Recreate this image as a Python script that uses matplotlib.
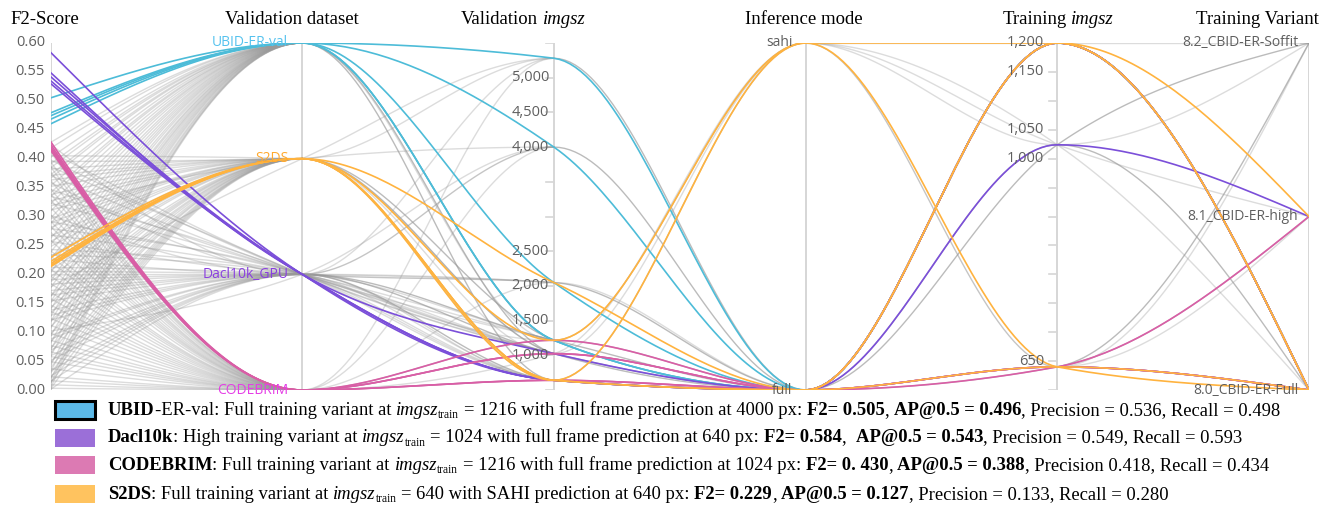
import numpy as np
import matplotlib
matplotlib.use("Agg")
import matplotlib.pyplot as plt
from matplotlib.collections import LineCollection
from matplotlib.patches import Rectangle

# ---------------------------------------------------------------- axes / scales
f2_ticks = [0.00, 0.05, 0.10, 0.15, 0.20, 0.25, 0.30, 0.35, 0.40, 0.45, 0.50, 0.55, 0.60]
f2_domain = [0.0, 0.60]
datasets = ["CODEBRIM", "Dacl10k_GPU", "S2DS", "UBID-ER-val"]          # bottom -> top
val_imgsz_ticks = [1000, 1500, 2000, 2500, 3000, 3500, 4000, 4500, 5000]
val_imgsz_labelled = [1000, 1500, 2000, 2500, 4000, 4500, 5000]
val_imgsz_domain = [500, 5500]
modes = ["full", "sahi"]
train_imgsz_ticks = [650, 700, 750, 800, 850, 900, 950, 1000, 1050, 1100, 1150, 1200]
train_imgsz_labelled = [650, 1000, 1050, 1150, 1200]
train_imgsz_domain = [600, 1200]
variants = ["8.0_CBID-ER-Full", "8.1_CBID-ER-high", "8.2_CBID-ER-Soffit"]

# ---------------------------------------------------------------- best runs per dataset
ubid_best_f2 = [0.505, 0.479, 0.474, 0.468, 0.460]
ubid_best_val_imgsz = [4000, 5280, 1216, 2048, 1216]
ubid_best_mode = ["full", "full", "full", "full", "full"]
ubid_best_train_imgsz = [1200, 1200, 1200, 1200, 1200]
ubid_best_variant = ["8.0", "8.0", "8.0", "8.0", "8.0"]

dacl_best_f2 = [0.584, 0.549, 0.542, 0.535, 0.530]
dacl_best_val_imgsz = [640, 1024, 640, 640, 640]
dacl_best_mode = ["full", "full", "full", "full", "full"]
dacl_best_train_imgsz = [1024, 1200, 640, 1200, 640]
dacl_best_variant = ["8.1", "8.0", "8.0", "8.0", "8.0"]

codebrim_best_f2 = [0.430, 0.425, 0.421, 0.418, 0.415]
codebrim_best_val_imgsz = [1024, 640, 1216, 1024, 640]
codebrim_best_mode = ["full", "full", "full", "full", "full"]
codebrim_best_train_imgsz = [1200, 640, 640, 1200, 640]
codebrim_best_variant = ["8.0", "8.1", "8.0", "8.0", "8.0"]

s2ds_best_f2 = [0.229, 0.222, 0.218, 0.215, 0.213]
s2ds_best_val_imgsz = [640, 1216, 2048, 640, 640]
s2ds_best_mode = ["sahi", "sahi", "full", "full", "full"]
s2ds_best_train_imgsz = [640, 1200, 1200, 640, 1200]
s2ds_best_variant = ["8.0", "8.1", "8.0", "8.0", "8.0"]

# ---------------------------------------------------------------- remaining sweep runs
ubid_f2 = [0.418, 0.402, 0.391, 0.372, 0.366, 0.341, 0.334, 0.309, 0.297, 0.288, 0.262, 0.251, 0.238,
           0.214, 0.203, 0.188, 0.161, 0.152, 0.127, 0.118, 0.093, 0.081, 0.058, 0.042, 0.018, 0.004,
           0.428, 0.384, 0.353, 0.322, 0.276, 0.226, 0.176, 0.139, 0.106, 0.069, 0.031, 0.011]
ubid_val_imgsz = [1216, 1024, 1216, 640, 1216, 1024, 1216, 640, 1216, 1024, 1216, 1024, 1216,
                  640, 1216, 1024, 1216, 1024, 1216, 640, 1216, 1024, 1216, 1024, 640, 1024,
                  1216, 1024, 640, 1216, 1024, 1216, 640, 1024, 1216, 640, 1216, 1024]
ubid_mode = ["full", "full", "full", "full", "full", "full", "sahi", "full", "full", "full", "full", "full", "full",
             "full", "full", "full", "full", "full", "full", "full", "full", "full", "full", "full", "full", "full",
             "full", "full", "full", "full", "full", "full", "full", "full", "full", "full", "full", "full"]
ubid_train_imgsz = [1024, 640, 1024, 1024, 640, 1024, 1200, 640, 1024, 1024, 640, 1024, 1024,
                    640, 1024, 640, 1024, 1024, 640, 1024, 1024, 640, 1024, 1024, 640, 1024,
                    1024, 1024, 640, 1024, 1024, 640, 1024, 1024, 1024, 640, 1024, 640]
ubid_variant = ["8.0", "8.2", "8.2", "8.0", "8.1", "8.0", "8.2", "8.2", "8.2", "8.0", "8.2", "8.2", "8.0",
                "8.1", "8.0", "8.2", "8.2", "8.0", "8.2", "8.0", "8.2", "8.1", "8.0", "8.2", "8.2", "8.0",
                "8.2", "8.0", "8.2", "8.0", "8.2", "8.2", "8.0", "8.0", "8.2", "8.2", "8.0", "8.1"]

s2ds_f2 = [0.395, 0.382, 0.371, 0.352, 0.338, 0.327, 0.311, 0.296, 0.281, 0.266, 0.248, 0.231, 0.207,
           0.196, 0.178, 0.163, 0.142, 0.133, 0.109, 0.097, 0.072, 0.064, 0.047, 0.029, 0.012, 0.002,
           0.405, 0.363, 0.318, 0.289, 0.257, 0.219, 0.187, 0.151, 0.118, 0.083, 0.038, 0.021]
s2ds_val_imgsz = [5280, 1216, 1024, 640, 1216, 1024, 4000, 640, 1216, 1024, 640, 1216, 1024,
                  640, 5280, 1216, 1024, 640, 1216, 1024, 640, 1216, 1024, 640, 1216, 1024,
                  1024, 640, 1216, 1024, 640, 1024, 1216, 640, 1024, 1216, 640, 1024]
s2ds_mode = ["full", "full", "full", "sahi", "full", "full", "full", "full", "full", "full", "full", "full", "sahi",
             "full", "full", "full", "full", "full", "full", "full", "full", "full", "full", "full", "full", "full",
             "full", "full", "full", "full", "full", "full", "full", "full", "full", "full", "full", "full"]
s2ds_train_imgsz = [1024, 1024, 640, 640, 1024, 1024, 1024, 640, 640, 1024, 1024, 1024, 1024,
                    640, 640, 1024, 1024, 1024, 640, 640, 1024, 1024, 1024, 640, 1024, 1024,
                    1024, 640, 1024, 1024, 640, 1024, 1024, 640, 1024, 1024, 640, 1024]
s2ds_variant = ["8.0", "8.2", "8.2", "8.2", "8.0", "8.2", "8.0", "8.1", "8.2", "8.0", "8.2", "8.0", "8.1",
                "8.2", "8.2", "8.2", "8.0", "8.0", "8.1", "8.2", "8.2", "8.0", "8.0", "8.2", "8.2", "8.0",
                "8.0", "8.2", "8.2", "8.0", "8.2", "8.0", "8.2", "8.1", "8.0", "8.2", "8.2", "8.0"]

dacl_f2 = [0.425, 0.398, 0.386, 0.359, 0.347, 0.323, 0.302, 0.279, 0.257, 0.243, 0.226, 0.212, 0.205,
           0.199, 0.191, 0.172, 0.154, 0.138, 0.121, 0.102, 0.088, 0.069, 0.051, 0.033, 0.015, 0.001,
           0.412, 0.371, 0.335, 0.291, 0.268, 0.234, 0.183, 0.164, 0.129, 0.094, 0.059, 0.024]
dacl_val_imgsz = [4000, 1024, 640, 2048, 1216, 1024, 5280, 640, 2048, 1024, 4000, 1216, 2048,
                  1024, 640, 2048, 1024, 1216, 640, 4000, 1024, 640, 1216, 1024, 640, 1024,
                  1024, 1216, 640, 1024, 1216, 640, 1024, 640, 1216, 1024, 640, 1024]
dacl_mode = ["full", "full", "full", "full", "sahi", "full", "full", "full", "full", "full", "full", "full", "full",
             "full", "sahi", "full", "full", "full", "full", "full", "full", "full", "full", "full", "full", "full",
             "full", "full", "full", "full", "full", "full", "full", "full", "full", "full", "full", "full"]
dacl_train_imgsz = [1024, 1024, 640, 1024, 1024, 1024, 640, 1024, 1024, 640, 640, 1024, 1024,
                    1024, 640, 640, 1024, 640, 1024, 1024, 640, 1024, 1024, 1024, 640, 1024,
                    1024, 1024, 640, 1024, 640, 1024, 1024, 640, 1024, 1024, 640, 1024]
dacl_variant = ["8.0", "8.2", "8.2", "8.0", "8.2", "8.0", "8.2", "8.0", "8.2", "8.1", "8.2", "8.0", "8.0",
                "8.2", "8.1", "8.2", "8.0", "8.2", "8.2", "8.0", "8.2", "8.0", "8.2", "8.0", "8.1", "8.2",
                "8.2", "8.0", "8.2", "8.0", "8.2", "8.0", "8.2", "8.2", "8.0", "8.2", "8.1", "8.0"]

codebrim_f2 = [0.412, 0.395, 0.377, 0.363, 0.348, 0.329, 0.316, 0.292, 0.273, 0.259, 0.241, 0.222, 0.209,
               0.184, 0.169, 0.147, 0.136, 0.112, 0.098, 0.077, 0.066, 0.049, 0.037, 0.023, 0.009, 0.003,
               0.421, 0.386, 0.339, 0.303, 0.283, 0.232, 0.197, 0.158, 0.124, 0.086, 0.058, 0.016]
codebrim_val_imgsz = [1024, 640, 1216, 1024, 640, 5280, 1216, 1024, 640, 4000, 1024, 1216, 640,
                      2048, 1024, 640, 1216, 1024, 640, 1216, 1024, 640, 1216, 1024, 640, 1024,
                      640, 1024, 1216, 640, 1024, 640, 1216, 1024, 640, 1024, 1216, 640]
codebrim_mode = ["full", "full", "full", "sahi", "full", "full", "full", "full", "full", "full", "full", "full", "full",
                 "full", "full", "full", "full", "full", "full", "full", "full", "full", "full", "full", "full", "full",
                 "full", "full", "full", "full", "full", "full", "full", "full", "full", "full", "full", "full"]
codebrim_train_imgsz = [1024, 640, 1024, 1024, 1024, 1024, 640, 1024, 640, 1024, 1024, 1024, 640,
                        640, 1024, 1024, 1024, 640, 1024, 640, 1024, 640, 1024, 1024, 640, 1024,
                        640, 1024, 1024, 640, 1024, 1024, 640, 1024, 640, 1024, 1024, 640]
codebrim_variant = ["8.0", "8.2", "8.2", "8.0", "8.0", "8.2", "8.1", "8.0", "8.2", "8.0", "8.2", "8.0", "8.1",
                    "8.2", "8.0", "8.2", "8.0", "8.2", "8.0", "8.2", "8.2", "8.1", "8.0", "8.0", "8.2", "8.2",
                    "8.2", "8.0", "8.2", "8.2", "8.0", "8.2", "8.2", "8.0", "8.2", "8.2", "8.0", "8.1"]

# ---------------------------------------------------------------- layout (pixels)
W, H = 1325, 508
X_LEFT, X_RIGHT = 50.5, 1309.0      # first / last axis
Y_TOP, Y_BOT = 43.0, 390.0          # axis top / bottom
N_AX = 6

fig = plt.figure(figsize=(W / 100, H / 100), dpi=100)
fig.patch.set_facecolor("white")
ax = fig.add_axes([X_LEFT / W, 1 - Y_BOT / H, (X_RIGHT - X_LEFT) / W, (Y_BOT - Y_TOP) / H])
ax.set_xlim(0, N_AX - 1)
ax.set_ylim(0, 1)
ax.axis("off")

PX_X = (N_AX - 1) / (X_RIGHT - X_LEFT)   # data units per pixel

variant_codes = [v.split("_")[0] for v in variants]


def lin(v, dom):
    return (v - dom[0]) / (dom[1] - dom[0])


def run_y(f2, ds, val, mode, train, var):
    return [lin(f2, f2_domain),
            datasets.index(ds) / (len(datasets) - 1),
            lin(val, val_imgsz_domain),
            modes.index(mode) / (len(modes) - 1),
            lin(train, train_imgsz_domain),
            variant_codes.index(var) / (len(variants) - 1)]


def monotone_slopes(ys):
    """Tangents of a monotone cubic (monotoneX) through equally spaced points."""
    ys = np.asarray(ys, float)
    m = len(ys)
    s = np.diff(ys)
    t = np.zeros(m)
    for i in range(1, m - 1):
        s0, s1 = s[i - 1], s[i]
        p = 0.5 * (s0 + s1)
        t[i] = (np.sign(s0) + np.sign(s1)) * min(abs(s0), abs(s1), 0.5 * abs(p))
    t[0] = (3 * s[0] - t[1]) / 2
    t[-1] = (3 * s[-1] - t[-2]) / 2
    return t


U = np.linspace(0, 1, 48)
B0, B1, B2, B3 = (1 - U) ** 3, 3 * U * (1 - U) ** 2, 3 * U ** 2 * (1 - U), U ** 3


def bezier_piece(i, y0, y1, t0, t1):
    x0, x1 = i, i + 1
    xs = B0 * x0 + B1 * (x0 + 1 / 3) + B2 * (x1 - 1 / 3) + B3 * x1
    yy = B0 * y0 + B1 * (y0 + t0 / 3) + B2 * (y1 - t1 / 3) + B3 * y1
    return np.column_stack([xs, yy])


def monotone_curve(ys):
    ys = np.asarray(ys, float)
    t = monotone_slopes(ys)
    parts = [bezier_piece(i, ys[i], ys[i + 1], t[i], t[i + 1]) for i in range(len(ys) - 1)]
    return np.vstack([parts[0]] + [p[1:] for p in parts[1:]])


# ---------------------------------------------------------------- background runs
sweep = [
    ("UBID-ER-val", ubid_f2, ubid_val_imgsz, ubid_mode, ubid_train_imgsz, ubid_variant),
    ("S2DS", s2ds_f2, s2ds_val_imgsz, s2ds_mode, s2ds_train_imgsz, s2ds_variant),
    ("Dacl10k_GPU", dacl_f2, dacl_val_imgsz, dacl_mode, dacl_train_imgsz, dacl_variant),
    ("CODEBRIM", codebrim_f2, codebrim_val_imgsz, codebrim_mode, codebrim_train_imgsz, codebrim_variant),
]
# identical curve pieces are merged and drawn once with the combined opacity
pieces = {}
for ds, f2s, vals, mds, trs, vrs in sweep:
    for f2, val, md, tr, vr in zip(f2s, vals, mds, trs, vrs):
        ys = np.asarray(run_y(f2, ds, val, md, tr, vr))
        t = monotone_slopes(ys)
        for i in range(len(ys) - 1):
            key = (i, round(ys[i], 6), round(ys[i + 1], 6), round(t[i], 6), round(t[i + 1], 6))
            pieces[key] = pieces.get(key, 0) + 1

BASE_ALPHA = 0.34
segs, cols = [], []
for (i, y0, y1, t0, t1), cnt in pieces.items():
    segs.append(bezier_piece(i, y0, y1, t0, t1))
    a = min(0.66, 1 - (1 - BASE_ALPHA) ** cnt)
    cols.append((0.60, 0.60, 0.60, a))
ax.add_collection(LineCollection(segs, colors=cols, linewidths=1.0, zorder=2, capstyle="round"))

# ---------------------------------------------------------------- highlighted runs
best = [
    ("UBID-ER-val", "#4dbcd8", ubid_best_f2, ubid_best_val_imgsz, ubid_best_mode, ubid_best_train_imgsz, ubid_best_variant),
    ("Dacl10k_GPU", "#7b4fd9", dacl_best_f2, dacl_best_val_imgsz, dacl_best_mode, dacl_best_train_imgsz, dacl_best_variant),
    ("CODEBRIM", "#d95ea6", codebrim_best_f2, codebrim_best_val_imgsz, codebrim_best_mode, codebrim_best_train_imgsz, codebrim_best_variant),
    ("S2DS", "#ffb33f", s2ds_best_f2, s2ds_best_val_imgsz, s2ds_best_mode, s2ds_best_train_imgsz, s2ds_best_variant),
]
for z, (ds, col, f2s, vals, mds, trs, vrs) in enumerate(best):
    for f2, val, md, tr, vr in zip(f2s, vals, mds, trs, vrs):
        pts = monotone_curve(run_y(f2, ds, val, md, tr, vr))
        ax.plot(pts[:, 0], pts[:, 1], color=col, lw=1.2, zorder=3 + z, solid_capstyle="round")

# ---------------------------------------------------------------- axis lines, ticks, labels
AXIS_COL = "#d6d6d6"
TICK_TXT = "#5f5f5f"
SANS = "Open Sans"
TICK_LEN = 8 * PX_X

for i in range(N_AX):
    ax.plot([i, i], [0, 1], color=AXIS_COL, lw=1.4, zorder=1, solid_capstyle="butt")
    for yy in (0, 1):
        ax.plot([i - TICK_LEN, i], [yy, yy], color=AXIS_COL, lw=1.2, zorder=1)


def tick_label(i, y, text, off_px, color=TICK_TXT, size=10):
    ax.text(i - off_px * PX_X, y, text, ha="right", va="center", fontsize=size,
            family=SANS, color=color, zorder=10, clip_on=False)


# F2-Score
for v in f2_ticks:
    y = lin(v, f2_domain)
    ax.plot([0 - TICK_LEN, 0], [y, y], color=AXIS_COL, lw=1.2, zorder=1)
    tick_label(0, y, f"{v:.2f}", 5.5, size=10.5)

# Validation dataset
dataset_label_colors = {"UBID-ER-val": "#55c2ee", "S2DS": "#ffa92e",
                        "Dacl10k_GPU": "#8a3fe0", "CODEBRIM": "#e53ee6"}
for k, name in enumerate(datasets):
    tick_label(1, k / (len(datasets) - 1), name, 14, color=dataset_label_colors[name])

# Validation imgsz
for v in val_imgsz_ticks:
    y = lin(v, val_imgsz_domain)
    ax.plot([2 - TICK_LEN, 2], [y, y], color=AXIS_COL, lw=1.2, zorder=1)
    if v in val_imgsz_labelled:
        tick_label(2, y, f"{v:,}", 5, size=10.5)

# Inference mode
for k, name in enumerate(modes):
    tick_label(3, k / (len(modes) - 1), name, 13)

# Training imgsz
for v in train_imgsz_ticks:
    y = lin(v, train_imgsz_domain)
    ax.plot([4 - TICK_LEN, 4], [y, y], color=AXIS_COL, lw=1.2, zorder=1)
    if v in train_imgsz_labelled:
        tick_label(4, y, f"{v:,}", 13, size=10.5)

# Training Variant
for k, name in enumerate(variants):
    tick_label(5, k / (len(variants) - 1), name, 11)

# ---------------------------------------------------------------- headers
SERIF = "Liberation Serif"
HDR = 13.5


def fig_text(x_px, y_px, s, **kw):
    return fig.text(x_px / W, 1 - y_px / H, s, transform=fig.transFigure, **kw)


fig_text(10, 20, "F2-Score", ha="left", va="center", family=SERIF, fontsize=HDR)
fig_text(292, 20, "Validation dataset", ha="center", va="center", family=SERIF, fontsize=HDR)
fig_text(1257, 20, "Training Variant", ha="center", va="center", family=SERIF, fontsize=HDR)
fig_text(804, 20, "Inference mode", ha="center", va="center", family=SERIF, fontsize=HDR)

fig.canvas.draw()
renderer = fig.canvas.get_renderer()


def width_px(s, **kw):
    t = fig.text(0, 0, s, **kw)
    w = t.get_window_extent(renderer).width
    t.remove()
    return w


def header_mixed(cx, y, parts):
    total = 0
    widths = []
    sp = width_px("a a", family=SERIF, fontsize=HDR) - width_px("aa", family=SERIF, fontsize=HDR)
    for s, st in parts:
        w = width_px(s, family=SERIF, fontsize=HDR, style=st)
        widths.append(w)
        total += w
    total += sp * (len(parts) - 1)
    x = cx - total / 2
    for (s, st), w in zip(parts, widths):
        fig_text(x, y, s, ha="left", va="center", family=SERIF, fontsize=HDR, style=st)
        x += w + sp


header_mixed(523, 20, [("Validation", "normal"), ("imgsz", "italic")])
header_mixed(1058, 20, [("Training", "normal"), ("imgsz", "italic")])

# ---------------------------------------------------------------- legend rows
LEG = 13.4
legend_colors = ["#5cb9e8", "#9b6fd8", "#dc7ab3", "#ffc35f"]
legend_rows_y = [410, 437.5, 465, 494]
legend_rows = [
    [("UBID", "b"), ("-ER-val: Full training variant at ", ""), ("imgsz", "i"), ("train", "s"),
     (" = 1216 with full frame prediction at 4000 px: ", ""), ("F2= 0.505", "b"), (", ", ""),
     ("AP@0.5 = 0.496", "b"), (", Precision = 0.536, Recall = 0.498", "")],
    [("Dacl10k", "b"), (": High training variant at ", ""), ("imgsz", "i"), ("train", "s"),
     (" = 1024 with full frame prediction at 640 px: ", ""), ("F2= 0.584", "b"), (",  ", ""),
     ("AP@0.5 = 0.543", "b"), (", Precision = 0.549, Recall = 0.593", "")],
    [("CODEBRIM", "b"), (": Full training variant at ", ""), ("imgsz", "i"), ("train", "s"),
     (" = 1216 with full frame prediction at 1024 px: ", ""), ("F2= 0. 430", "b"), (", ", ""),
     ("AP@0.5 = 0.388", "b"), (", Precision 0.418, Recall = 0.434", "")],
    [("S2DS", "b"), (": Full training variant at ", ""), ("imgsz", "i"), ("train", "s"),
     (" = 640 with SAHI prediction at 640 px: ", ""), ("F2= 0.229", "b"), (", ", ""),
     ("AP@0.5 = 0.127", "b"), (", Precision = 0.133, Recall = 0.280", "")],
]


def style_kw(st):
    kw = dict(family=SERIF, fontsize=LEG)
    if st == "b":
        kw["weight"] = "bold"
    elif st == "i":
        kw["style"] = "italic"
    elif st == "s":
        kw["fontsize"] = LEG * 0.62
    return kw


for k, (row, yc) in enumerate(zip(legend_rows, legend_rows_y)):
    rx, rw, rh = 55, 40, 18
    rect = Rectangle((rx / W, 1 - (yc + rh / 2) / H), rw / W, rh / H, transform=fig.transFigure,
                     facecolor=legend_colors[k], edgecolor="black" if k == 0 else "none",
                     lw=2.2 if k == 0 else 0)
    fig.add_artist(rect)
    x = 108
    base = yc + 5
    for s, st in row:
        kw = style_kw(st)
        sp = width_px("a a", **kw) - width_px("aa", **kw)
        lead = len(s) - len(s.lstrip(" "))
        trail = len(s) - len(s.rstrip(" "))
        core = s.strip(" ")
        x += lead * sp
        dy = 3 if st == "s" else 0
        t = fig_text(x, base + dy, core, ha="left", va="baseline", **kw)
        x += t.get_window_extent(renderer).width + trail * sp

fig.savefig("out.png", dpi=100, facecolor="white")
